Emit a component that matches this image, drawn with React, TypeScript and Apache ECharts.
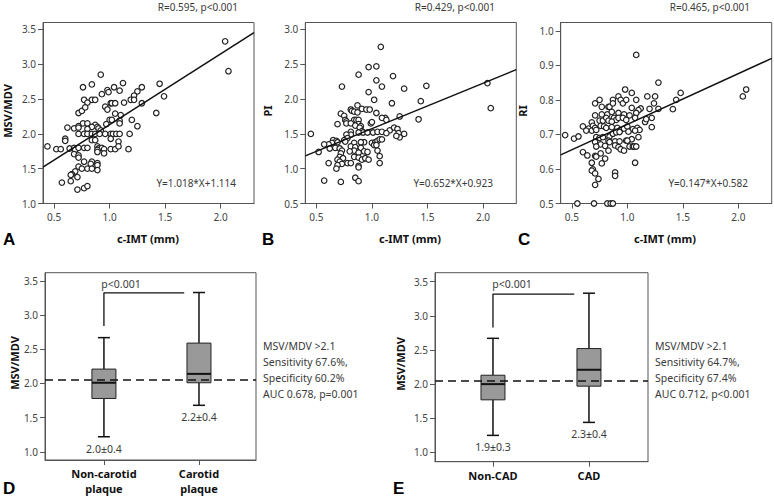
import React, { useEffect, useRef } from 'react';
import * as echarts from 'echarts';

// ---------- Data ----------
const xTicksIMT = [0.5, 1.0, 1.5, 2.0];
const yTicksA = [1.0, 1.5, 2.0, 2.5, 3.0, 3.5];
const yTicksB = [0.5, 1.0, 1.5, 2.0, 2.5, 3.0];
const yTicksC = [0.5, 0.6, 0.7, 0.8, 0.9, 1.0];
const yTicksBox = [1.0, 1.5, 2.0, 2.5, 3.0, 3.5];

// Panel A: c-IMT vs MSV/MDV
const scatterA: [number, number][] = [
  [0.92, 2.85], [0.84, 2.71], [0.76, 2.67], [1.12, 2.73], [1.04, 2.67], [1.29, 2.67], [1.45, 2.72],
  [0.98, 2.63], [0.99, 2.6], [1.09, 2.62], [1.25, 2.61], [0.93, 2.57], [1.22, 2.55], [1.49, 2.54],
  [0.77, 2.49], [0.84, 2.49], [0.87, 2.49], [1.19, 2.49], [1.22, 2.49], [1.13, 2.45], [0.8, 2.45],
  [1.01, 2.44], [1.02, 2.44], [1.05, 2.44], [1.29, 2.44], [0.96, 2.39], [0.72, 2.3], [0.75, 2.33],
  [1.05, 2.29], [1.1, 2.27], [1.42, 2.3], [0.98, 2.35], [0.78, 2.38],
  [1.09, 2.19], [1.2, 2.2], [1.0, 2.2], [1.02, 2.2], [0.76, 2.15], [0.72, 2.11], [0.8, 2.15],
  [0.87, 2.13], [0.84, 2.1], [0.89, 2.1], [0.97, 2.14], [1.09, 2.15], [1.25, 2.11], [0.68, 2.08],
  [0.72, 2.09], [0.62, 2.09], [0.8, 2.07], [0.9, 2.08], [0.92, 2.05],
  [0.72, 2.0], [0.77, 2.0], [0.8, 2.0], [0.84, 2.0], [0.87, 2.0], [0.91, 2.0], [0.96, 2.0],
  [1.01, 2.0], [1.03, 2.0], [1.06, 2.0], [1.09, 2.0], [1.18, 2.0],
  [0.6, 1.93], [0.6, 1.9], [0.84, 1.91], [0.87, 1.91], [1.01, 1.93], [1.08, 1.89],
  [0.44, 1.82], [0.52, 1.78], [0.56, 1.78], [0.64, 1.79], [0.68, 1.8], [0.69, 1.77], [0.72, 1.8],
  [0.77, 1.8], [0.8, 1.8], [0.89, 1.82], [0.9, 1.79], [0.93, 1.8], [0.95, 1.78], [1.01, 1.78],
  [1.05, 1.78], [1.08, 1.82], [1.17, 1.78],
  [0.68, 1.71], [0.72, 1.69], [0.72, 1.66], [0.89, 1.77], [0.89, 1.74], [0.95, 1.72],
  [0.77, 1.6], [0.84, 1.6], [0.83, 1.57], [0.89, 1.58], [0.89, 1.55], [0.72, 1.53], [0.75, 1.5],
  [0.8, 1.5], [0.84, 1.5], [0.89, 1.48], [0.69, 1.46], [0.66, 1.42], [0.65, 1.41], [0.71, 1.38],
  [0.57, 1.3], [0.65, 1.32], [0.71, 1.2], [0.77, 1.22], [0.8, 1.25],
  [2.04, 3.33], [2.07, 2.9],
];

// Panel B: c-IMT vs PI
const scatterB: [number, number][] = [
  [1.08, 2.75], [0.97, 2.46], [1.04, 2.47], [0.88, 2.35], [1.04, 2.27], [1.19, 2.33], [0.73, 2.18],
  [1.09, 2.18], [1.29, 2.15], [1.49, 2.19], [0.97, 2.1], [1.02, 1.99], [1.44, 1.97], [1.18, 1.94],
  [0.87, 1.91], [0.91, 1.86], [0.95, 1.85], [0.98, 1.85], [0.81, 1.85], [0.82, 1.83], [0.84, 1.82],
  [0.87, 1.81], [1.04, 1.8], [0.72, 1.79], [0.75, 1.76], [0.76, 1.7], [0.77, 1.68], [0.84, 1.7],
  [0.86, 1.7], [0.88, 1.7], [1.12, 1.73], [1.09, 1.73], [1.13, 1.7], [1.25, 1.75], [1.42, 1.71],
  [0.77, 1.65], [0.81, 1.65], [0.88, 1.64], [0.85, 1.62], [0.9, 1.61], [0.69, 1.64], [0.99, 1.65],
  [1.0, 1.67], [1.16, 1.55], [1.2, 1.59], [1.23, 1.57], [0.89, 1.59], [0.91, 1.54], [0.92, 1.52],
  [0.88, 1.52], [0.96, 1.52], [1.01, 1.52], [1.05, 1.53], [1.09, 1.53], [1.13, 1.51], [1.24, 1.51],
  [1.29, 1.5], [1.25, 1.45], [1.22, 1.47], [0.45, 1.5], [0.81, 1.53], [0.81, 1.49], [0.77, 1.49],
  [0.78, 1.44], [0.75, 1.41], [0.65, 1.41], [0.68, 1.4], [0.69, 1.38], [0.64, 1.37], [0.61, 1.35],
  [0.57, 1.35], [0.62, 1.29], [0.52, 1.24], [0.67, 1.3], [0.71, 1.29], [0.73, 1.26], [0.76, 1.39],
  [0.84, 1.37], [0.93, 1.38], [0.9, 1.38], [1.0, 1.37], [1.03, 1.38], [1.05, 1.4], [1.07, 1.42],
  [1.09, 1.42], [1.02, 1.34], [1.04, 1.34], [0.81, 1.32], [0.85, 1.31], [0.9, 1.3], [0.84, 1.26],
  [0.8, 1.25], [0.93, 1.25], [0.96, 1.24], [1.05, 1.26], [0.88, 1.23], [0.72, 1.22], [0.71, 1.17],
  [0.74, 1.15], [0.84, 1.17], [0.88, 1.16], [0.91, 1.13], [0.94, 1.15], [0.97, 1.13], [1.07, 1.18],
  [0.69, 1.13], [0.71, 1.1], [0.73, 1.07], [0.78, 1.08], [0.81, 1.08], [0.61, 1.08], [0.69, 1.05],
  [0.68, 1.0], [0.88, 1.04], [0.88, 1.02], [1.07, 1.08], [0.57, 0.83], [0.72, 0.81], [0.85, 0.87],
  [0.88, 0.82], [2.04, 2.23], [2.07, 1.87],
];

// Panel C: c-IMT vs RI
const scatterC: [number, number][] = [
  [1.08, 0.93], [1.28, 0.85], [0.98, 0.83], [1.04, 0.82], [0.92, 0.81], [1.18, 0.81], [1.25, 0.81],
  [1.48, 0.82], [0.71, 0.79], [0.75, 0.8], [0.87, 0.8], [0.94, 0.8], [0.96, 0.79], [0.99, 0.8],
  [1.08, 0.8], [1.44, 0.8], [0.77, 0.78], [0.83, 0.78], [0.84, 0.78], [0.87, 0.79], [1.24, 0.79],
  [1.12, 0.775], [1.1, 0.77], [1.04, 0.777], [1.2, 0.774], [1.28, 0.774], [1.41, 0.773],
  [0.71, 0.755], [0.77, 0.758], [0.82, 0.758], [0.86, 0.765], [0.92, 0.762], [0.97, 0.758],
  [1.02, 0.755], [1.08, 0.762], [0.75, 0.74], [0.78, 0.74], [0.81, 0.748], [0.83, 0.74],
  [0.88, 0.748], [0.9, 0.742], [0.92, 0.748], [0.86, 0.737], [0.96, 0.748], [0.99, 0.742],
  [1.07, 0.748], [1.16, 0.736], [1.22, 0.748], [1.17, 0.744], [0.68, 0.735], [0.69, 0.725],
  [0.6, 0.723], [0.65, 0.717], [0.68, 0.711], [0.71, 0.719], [0.76, 0.725], [0.79, 0.723],
  [0.81, 0.719], [0.86, 0.721], [0.91, 0.719], [0.94, 0.713], [0.97, 0.717], [1.0, 0.723],
  [1.05, 0.715], [1.09, 0.719], [1.11, 0.713], [1.22, 0.721], [0.72, 0.713], [0.44, 0.698],
  [0.52, 0.688], [0.56, 0.694], [0.63, 0.711], [0.72, 0.692], [0.75, 0.69], [0.78, 0.692],
  [0.84, 0.694], [0.87, 0.702], [0.9, 0.706], [0.93, 0.707], [1.01, 0.708], [1.07, 0.711],
  [0.83, 0.682], [0.89, 0.68], [0.93, 0.68], [0.99, 0.682], [1.04, 0.686], [1.1, 0.692],
  [0.71, 0.678], [0.76, 0.671], [0.72, 0.665], [0.8, 0.667], [0.84, 0.678], [0.89, 0.668],
  [0.92, 0.663], [0.94, 0.657], [0.97, 0.653], [1.0, 0.682], [1.02, 0.665], [1.05, 0.665],
  [1.06, 0.665], [1.08, 0.665], [0.6, 0.649], [0.64, 0.639], [0.71, 0.638], [0.72, 0.636],
  [0.68, 0.618], [0.77, 0.616], [0.8, 0.63], [0.76, 0.645], [0.83, 0.653], [1.07, 0.618],
  [0.69, 0.599], [0.68, 0.595], [0.71, 0.587], [0.74, 0.571], [0.71, 0.554], [0.89, 0.59],
  [0.89, 0.58], [0.55, 0.5], [0.7, 0.5], [0.82, 0.5], [0.85, 0.5], [0.87, 0.5],
  [2.04, 0.81], [2.07, 0.83],
];

const fitSlopes = [1.018, 0.652, 0.147];
const fitIntercepts = [1.114, 0.923, 0.582];
const corrTexts = ['R=0.595, p<0.001', 'R=0.429, p<0.001', 'R=0.465, p<0.001'];
const eqTexts = ['Y=1.018*X+1.114', 'Y=0.652*X+0.923', 'Y=0.147*X+0.582'];
const scatterYNames = ['MSV/MDV', 'PI', 'RI'];

// Panel D / E box plots: [low whisker, Q1, median, Q3, high whisker]
const categoriesD = ['Non-carotid\nplaque', 'Carotid\nplaque'];
const boxStatsD = [
  [1.22, 1.78, 2.01, 2.21, 2.67],
  [1.68, 2.01, 2.14, 2.59, 3.33],
];
const meanSdD = ['2.0\u00b10.4', '2.2\u00b10.4'];
const cutoffD = 2.06;
const bracketD = [[0, 2.84], [0, 3.325], [0.845, 3.325]];
const notesD = ['MSV/MDV >2.1', 'Sensitivity 67.6%,', 'Specificity 60.2%', 'AUC 0.678, p=0.001'];

const categoriesE = ['Non-CAD', 'CAD'];
const boxStatsE = [
  [1.25, 1.77, 2.0, 2.13, 2.67],
  [1.44, 1.97, 2.21, 2.52, 3.33],
];
const meanSdE = ['1.9\u00b10.3', '2.3\u00b10.4'];
const cutoffE = 2.05;
const bracketE = [[0, 2.83], [0, 3.317], [0.847, 3.317]];
const notesE = ['MSV/MDV >2.1', 'Sensitivity 64.7%,', 'Specificity 67.4%', 'AUC 0.712, p<0.001'];

const pTexts = ['p<0.001', 'p<0.001'];

// ---------- Styling ----------
const FONT = '"Noto Sans", "Open Sans", sans-serif';
const AXIS_COLOR = '#555';
const TEXT_COLOR = '#3a3a3a';

const IMT_MIN = 0.4;
const IMT_MAX = 2.3;

function valueAxis(gridIndex: number, min: number, max: number, ticks: number[], digits = 1, extra: any = {}) {
  return {
    type: 'value',
    gridIndex,
    min,
    max,
    splitLine: { show: false },
    axisLine: { show: true, onZero: false, lineStyle: { color: AXIS_COLOR, width: 1 } },
    axisTick: { show: true, length: 5, customValues: ticks, lineStyle: { color: AXIS_COLOR } },
    axisLabel: {
      customValues: ticks,
      formatter: (v: number) => v.toFixed(digits),
      color: '#444',
      fontFamily: FONT,
      fontSize: 10,
      margin: 7,
    },
    ...extra,
  };
}

export default function App() {
  const ref = useRef<HTMLDivElement>(null);

  useEffect(() => {
    if (!ref.current) return;
    const chart = echarts.init(ref.current, undefined, { renderer: 'svg' });

    const scatterGrids = [
      { left: 43, top: 22.5, width: 211, height: 181 },
      { left: 305.3, top: 22.5, width: 211, height: 181 },
      { left: 560.7, top: 22.5, width: 211, height: 181 },
    ];
    const boxGrids = [
      { left: 45, top: 272.7, width: 211, height: 187.3 },
      { left: 435, top: 272.7, width: 213, height: 189 },
    ];
    const grids = [...scatterGrids, ...boxGrids].map((g) => ({
      ...g,
      show: true,
      borderColor: AXIS_COLOR,
      borderWidth: 1,
      backgroundColor: 'transparent',
      containLabel: false,
    }));

    const xAxes: any[] = [0, 1, 2].map((i) =>
      valueAxis(i, IMT_MIN, IMT_MAX, xTicksIMT, 1, {
        axisLabel: {
          customValues: xTicksIMT,
          formatter: (v: number) => v.toFixed(1),
          color: '#444',
          fontFamily: FONT,
          fontSize: 10,
          margin: 8,
        },
      })
    );
    const catLabel = (cats: string[]) => ({
      customValues: [0, 1],
      formatter: (v: number) => cats[Math.round(v)] ?? '',
      color: '#111',
      fontFamily: FONT,
      fontWeight: 'bold',
      fontSize: 11,
      lineHeight: 15,
      margin: 6,
    });
    xAxes.push(
      valueAxis(3, -0.62, 1.6, [0, 1], 0, { axisLabel: catLabel(categoriesD) }),
      valueAxis(4, -0.604, 1.615, [0, 1], 0, { axisLabel: catLabel(categoriesE) })
    );

    const yAxes: any[] = [
      valueAxis(0, 1.0, 3.6, yTicksA),
      valueAxis(1, 0.5, 3.1, yTicksB),
      valueAxis(2, 0.5, 1.024, yTicksC),
      valueAxis(3, 0.88, 3.62, yTicksBox),
      valueAxis(4, 0.865, 3.63, yTicksBox),
    ];

    const scatterSets = [scatterA, scatterB, scatterC];
    const series: any[] = [];
    scatterSets.forEach((data, i) => {
      series.push({
        type: 'scatter',
        xAxisIndex: i,
        yAxisIndex: i,
        data,
        clip: false,
        symbol: 'circle',
        symbolSize: 5.5,
        itemStyle: { color: '#fff', borderColor: '#222', borderWidth: 1.2, opacity: 1 },
        silent: true,
        z: 3,
      });
      series.push({
        type: 'line',
        xAxisIndex: i,
        yAxisIndex: i,
        data: [
          [IMT_MIN, fitSlopes[i] * IMT_MIN + fitIntercepts[i]],
          [IMT_MAX, fitSlopes[i] * IMT_MAX + fitIntercepts[i]],
        ],
        symbol: 'none',
        lineStyle: { color: '#111', width: 1.5 },
        silent: true,
        z: 4,
      });
    });

    const makeBoxRender = (labels: string[]) => (params: any, api: any) => {
      const idx = api.value(0);
      const low = api.value(1);
      const q1 = api.value(2);
      const med = api.value(3);
      const q3 = api.value(4);
      const high = api.value(5);
      const [cx, yLow] = api.coord([idx, low]);
      const yQ1 = api.coord([idx, q1])[1];
      const yMed = api.coord([idx, med])[1];
      const yQ3 = api.coord([idx, q3])[1];
      const yHigh = api.coord([idx, high])[1];
      const bw = 24;
      const cw = 12;
      const ln = (x1: number, y1: number, x2: number, y2: number, w: number) => ({
        type: 'line',
        shape: { x1, y1, x2, y2 },
        style: { stroke: '#111', lineWidth: w },
      });
      return {
        type: 'group',
        children: [
          ln(cx, yHigh, cx, yQ3, 1.5),
          ln(cx, yQ1, cx, yLow, 1.5),
          ln(cx - cw / 2, yHigh, cx + cw / 2, yHigh, 1.5),
          ln(cx - cw / 2, yLow, cx + cw / 2, yLow, 1.5),
          {
            type: 'rect',
            shape: { x: cx - bw / 2, y: yQ3, width: bw, height: yQ1 - yQ3 },
            style: { fill: '#999999', stroke: '#222', lineWidth: 1 },
          },
          ln(cx - bw / 2, yMed, cx + bw / 2, yMed, 2),
          {
            type: 'text',
            x: cx,
            y: yLow + 12,
            style: {
              text: labels[params.dataIndex],
              align: 'center',
              verticalAlign: 'middle',
              font: `10.5px ${FONT}`,
              fill: TEXT_COLOR,
            },
          },
        ],
      };
    };

    const boxSets = [
      { stats: boxStatsD, labels: meanSdD, cutoff: cutoffD, bracket: bracketD },
      { stats: boxStatsE, labels: meanSdE, cutoff: cutoffE, bracket: bracketE },
    ];
    boxSets.forEach((b, k) => {
      const ai = 3 + k;
      series.push({
        type: 'custom',
        xAxisIndex: ai,
        yAxisIndex: ai,
        data: b.stats.map((s, i) => [i, ...s]),
        encode: { x: 0, y: [1, 2, 3, 4, 5] },
        renderItem: makeBoxRender(b.labels),
        silent: true,
        clip: false,
        z: 3,
      });
      series.push({
        type: 'line',
        xAxisIndex: ai,
        yAxisIndex: ai,
        data: b.bracket,
        symbol: 'none',
        lineStyle: { color: '#111', width: 1.3 },
        silent: true,
        z: 3,
      });
      series.push({
        type: 'line',
        xAxisIndex: ai,
        yAxisIndex: ai,
        data: [],
        silent: true,
        z: 5,
        markLine: {
          silent: true,
          symbol: 'none',
          animation: false,
          label: { show: false },
          lineStyle: { color: '#111', width: 1.6, type: [8, 5] },
          data: [{ yAxis: b.cutoff }],
        },
      });
    });

    // ---------- Text graphics ----------
    const txt = (text: string, x: number, y: number, opts: any = {}) => ({
      type: 'text',
      x,
      y,
      rotation: opts.rotation || 0,
      silent: true,
      style: {
        text,
        align: opts.align || 'left',
        verticalAlign: 'middle',
        font: opts.font || `10px ${FONT}`,
        fill: opts.fill || TEXT_COLOR,
      },
    });

    const graphics: any[] = [];
    const corrRight = [238, 495, 750];
    const yNameX = [7, 267, 522];
    const letterX = [3, 262, 518];
    const letters = ['A', 'B', 'C'];
    const xTitleX = [148, 410, 665];
    [0, 1, 2].forEach((i) => {
      graphics.push(txt(corrTexts[i], corrRight[i], 7, { align: 'right', font: `10px ${FONT}` }));
      graphics.push(txt(eqTexts[i], corrRight[i] - 2, 183, { align: 'right', font: `10px ${FONT}` }));
      graphics.push(
        txt(scatterYNames[i], yNameX[i], 111, {
          align: 'center',
          rotation: Math.PI / 2,
          font: `bold 11px ${FONT}`,
          fill: '#111',
        })
      );
      graphics.push(txt(letters[i], letterX[i], 239, { font: `bold 17px "Liberation Sans", Arial, sans-serif`, fill: '#000' }));
      graphics.push(txt('c-IMT (mm)', xTitleX[i], 238, { align: 'center', font: `bold 11px ${FONT}`, fill: '#111' }));
    });

    // bottom panels
    graphics.push(txt('MSV/MDV', 14, 363, { align: 'center', rotation: Math.PI / 2, font: `bold 11px ${FONT}`, fill: '#111' }));
    graphics.push(txt('MSV/MDV', 400, 364, { align: 'center', rotation: Math.PI / 2, font: `bold 11px ${FONT}`, fill: '#111' }));
    graphics.push(txt('D', 3, 488, { font: `bold 17px "Liberation Sans", Arial, sans-serif`, fill: '#000' }));
    graphics.push(txt('E', 393, 488, { font: `bold 17px "Liberation Sans", Arial, sans-serif`, fill: '#000' }));
    graphics.push(txt(pTexts[0], 121, 283.5, { align: 'center', font: `10.5px ${FONT}` }));
    graphics.push(txt(pTexts[1], 512, 283.5, { align: 'center', font: `10.5px ${FONT}` }));
    const noteYD = [345.7, 362, 378.3, 394.3];
    const noteYE = [345.7, 361.7, 377.7, 393.5];
    notesD.forEach((t, i) => graphics.push(txt(t, 263, noteYD[i], { font: `10.5px ${FONT}` })));
    notesE.forEach((t, i) => graphics.push(txt(t, 655, noteYE[i], { font: `10.5px ${FONT}` })));

    chart.setOption({
      animation: false,
      backgroundColor: '#fff',
      grid: grids,
      xAxis: xAxes,
      yAxis: yAxes,
      series,
      graphic: { elements: graphics },
    });

    return () => chart.dispose();
  }, []);

  return (
    <div
      ref={ref}
      style={{ position: 'fixed', left: 0, top: 0, width: 774, height: 499, background: '#fff' }}
    />
  );
}
